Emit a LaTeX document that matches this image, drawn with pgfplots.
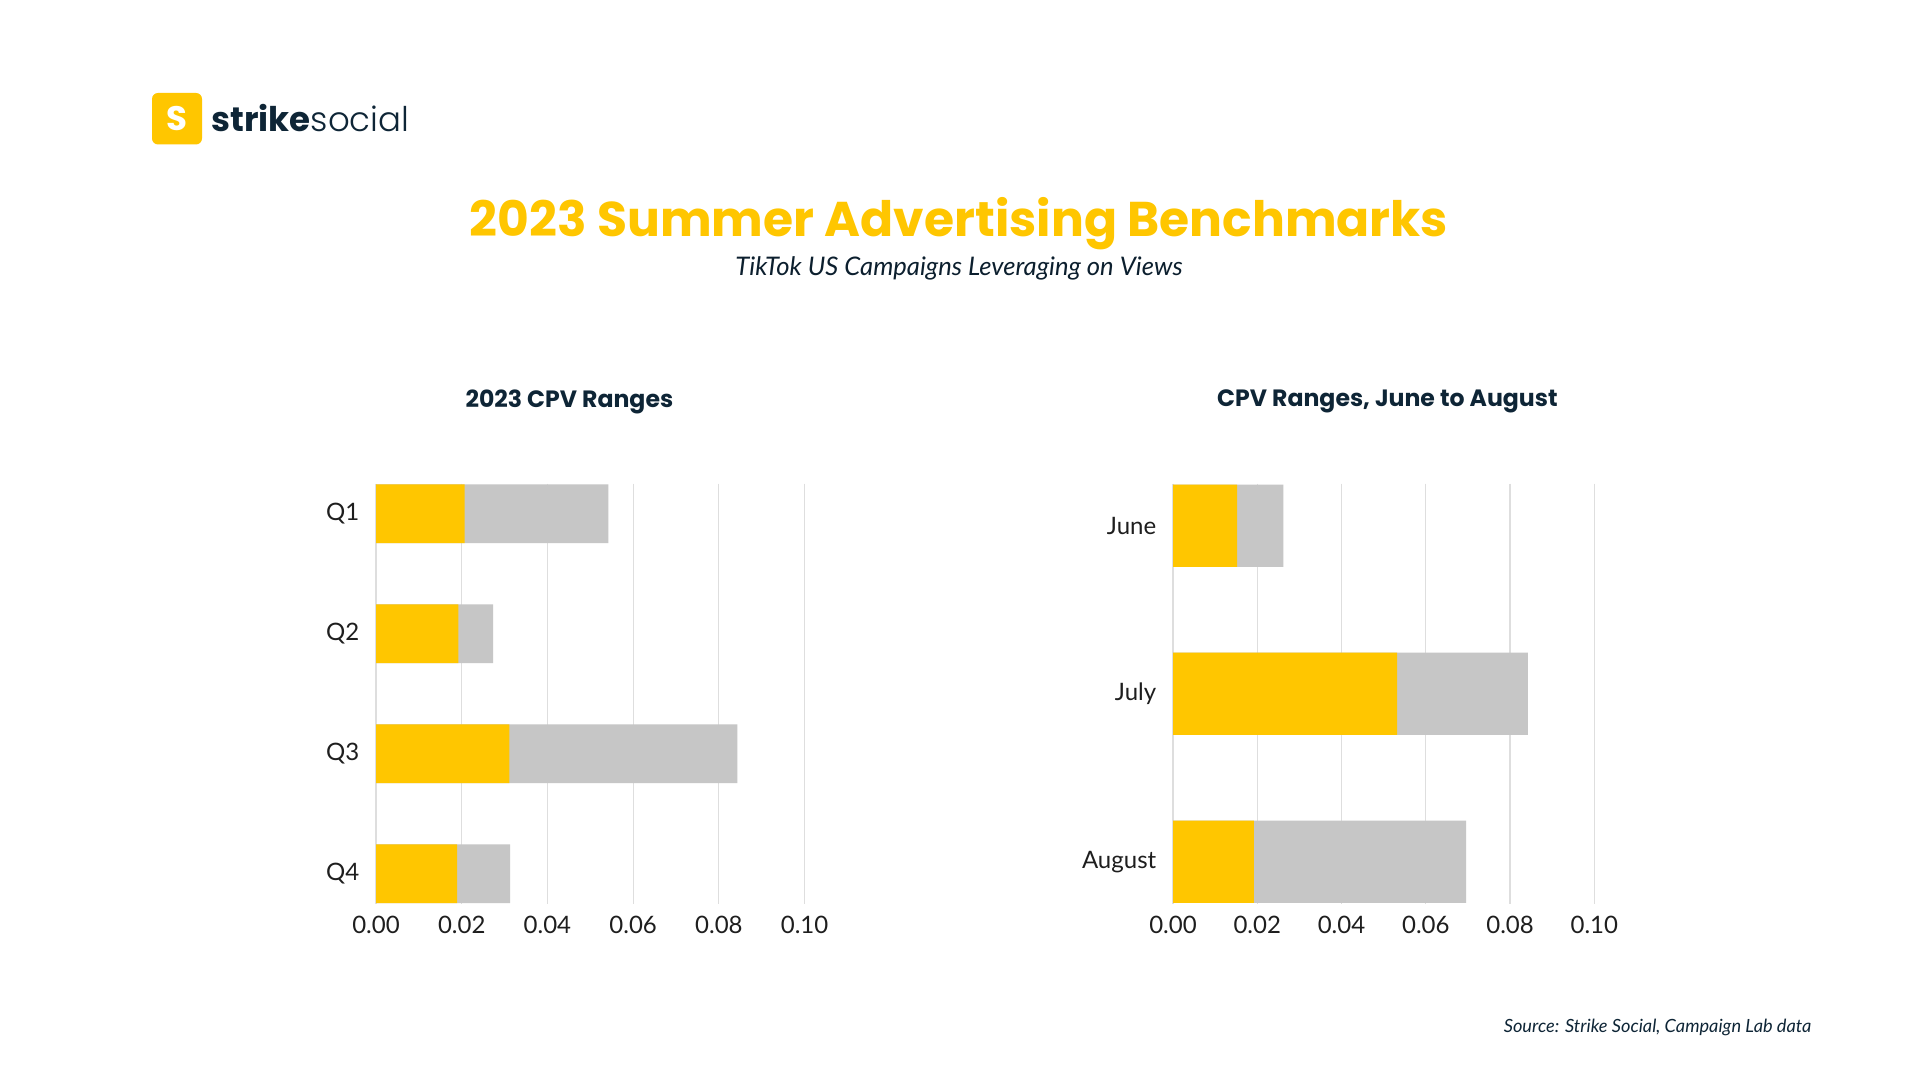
\documentclass[border=0pt]{standalone}
\usepackage{pgfplots}
\pgfplotsset{compat=1.18}
\usepackage{fontspec}
\setmainfont{Lato}
\newfontfamily\popbold{Poppins}[UprightFont=* Bold]
\newfontfamily\poplight{Poppins Light}
\definecolor{ssyellow}{HTML}{FFC600}
\definecolor{ssgray}{HTML}{C6C6C6}
\definecolor{ssnavy}{HTML}{0E2536}
\definecolor{gridgray}{HTML}{DEDEDE}
\definecolor{txt}{HTML}{1E1E1E}
\pgfplotsset{
  cpv/.style={
    xbar, scale only axis, y dir=reverse,
    xmin=0, xmax=0.1,
    xtick={0,0.02,0.04,0.06,0.08,0.1},
    scaled x ticks=false,
    xticklabel style={/pgf/number format/fixed, /pgf/number format/fixed zerofill, /pgf/number format/precision=2, /pgf/number format/assume math mode=true},
    xticklabel style={font=\fontsize{12}{14}\selectfont, text=txt, yshift=-2.8pt},
    yticklabel style={font=\fontsize{12}{14}\selectfont, text=txt, xshift=-0.6pt},
    xmajorgrids, major grid style={color=gridgray, line width=0.6pt},
    axis line style={draw=none}, tick style={draw=none},
    bar width=0.49,
  }
}
\begin{document}
\begin{tikzpicture}
\path[use as bounding box, fill=white] (0,0) rectangle (960pt,540pt);
% logo
\fill[ssyellow, rounded corners=3pt] (76pt,467.75pt) rectangle (101pt,493.5pt);
\node[text=white, font=\popbold\fontsize{17}{17}\selectfont] at (88.5pt,480.6pt) {S};
\node[anchor=west, text=ssnavy, inner sep=0pt] at (105.5pt,481pt) {\fontsize{17}{18}\selectfont{\popbold strike}{\poplight social}};
% titles
\node[text=ssyellow, font=\popbold\fontsize{24.4}{28}\selectfont] at (479.5pt,428.2pt) {2023 Summer Advertising Benchmarks};
\node[text=ssnavy!85!black, font=\itshape\fontsize{12.8}{15}\selectfont] at (479.5pt,405.8pt) {TikTok US Campaigns Leveraging on Views};
\node[text=ssnavy, font=\popbold\fontsize{11.8}{14}\selectfont] at (284.7pt,339.2pt) {2023 CPV Ranges};
\node[text=ssnavy, font=\popbold\fontsize{11.8}{14}\selectfont] at (693.7pt,339.2pt) {CPV Ranges, June to August};
\node[anchor=east, text=ssnavy, font=\itshape\fontsize{9.1}{11}\selectfont] at (909.2pt,26.3pt) {Source: Strike Social, Campaign Lab data};
% left chart
\begin{axis}[cpv, at={(188pt,88.15pt)}, anchor=south west, width=214.3pt, height=210pt,
  ymin=-0.25, ymax=3.25, ytick={0,1,2,3}, yticklabels={Q1,Q2,Q3,Q4}]
\addplot[fill=ssgray, draw=none, bar shift=0pt] coordinates {(0.0542,0) (0.0273,1) (0.0843,2) (0.0313,3)};
\addplot[fill=ssyellow, draw=none, bar shift=0pt] coordinates {(0.0207,0) (0.0192,1) (0.0311,2) (0.0189,3)};
\end{axis}
% right chart
\begin{axis}[cpv, at={(586.5pt,88.15pt)}, anchor=south west, width=210.65pt, height=210pt,
  ymin=-0.25, ymax=2.25, ytick={0,1,2}, yticklabels={June,July,August}]
\addplot[fill=ssgray, draw=none, bar shift=0pt] coordinates {(0.0262,0) (0.0842,1) (0.0696,2)};
\addplot[fill=ssyellow, draw=none, bar shift=0pt] coordinates {(0.0152,0) (0.0532,1) (0.0192,2)};
\end{axis}
\end{tikzpicture}
\end{document}
